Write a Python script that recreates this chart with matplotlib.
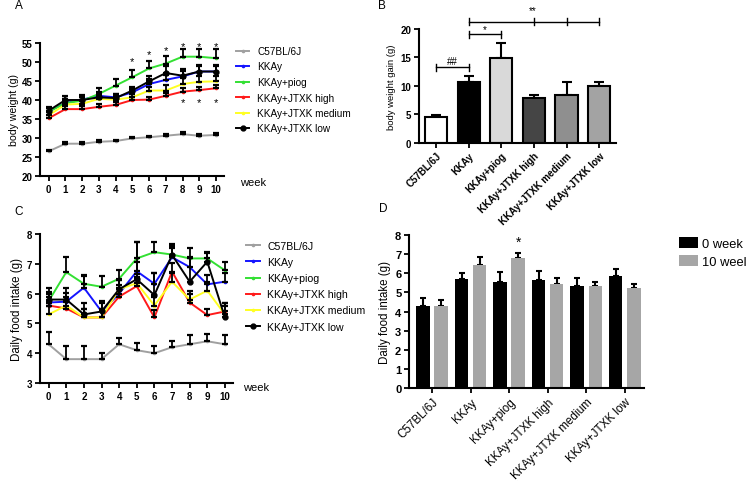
import matplotlib.pyplot as plt
import numpy as np

plt.rcParams['font.family'] = ['Liberation Sans', 'DejaVu Sans']

# ── Data ─────────────────────────────────────────────────────────
weeks = list(range(11))
groups = ["C57BL/6J", "KKAy", "KKAy+piog", "KKAy+JTXK high",
          "KKAy+JTXK medium", "KKAy+JTXK low"]
line_colors = ["#a0a0a0", "#1414ff", "#33e033", "#ff1a1a", "#ffff22", "#000000"]

# A: body weight (g), mean and upper SEM
bw_c57 = [26.5, 28.5, 28.5, 29.0, 29.2, 29.9, 30.2, 30.6, 31.0, 30.6, 30.8]
bw_kkay = [37.0, 39.2, 40.1, 41.1, 40.7, 42.0, 44.2, 45.3, 46.2, 47.5, 47.5]
bw_piog = [36.9, 39.2, 39.8, 41.6, 43.8, 46.0, 48.3, 49.6, 51.4, 51.4, 51.0]
bw_high = [35.2, 37.6, 37.6, 38.2, 38.7, 40.0, 40.1, 41.1, 42.2, 42.6, 43.1]
bw_med = [36.0, 38.8, 39.0, 40.3, 40.1, 40.7, 42.5, 42.5, 44.2, 44.8, 44.9]
bw_low = [37.2, 40.0, 40.0, 40.7, 40.5, 42.5, 44.9, 47.1, 46.4, 47.5, 47.5]
bw_err_c57 = [0.4, 0.4, 0.4, 0.4, 0.4, 0.4, 0.4, 0.4, 0.5, 0.4, 0.4]
bw_err_kkay = [1.0, 1.0, 1.0, 1.0, 1.0, 1.0, 1.2, 1.4, 1.4, 1.4, 1.5]
bw_err_piog = [1.0, 1.0, 1.0, 1.5, 1.6, 2.0, 2.0, 2.0, 2.0, 2.0, 2.3]
bw_err_high = [0.8, 0.8, 0.8, 0.8, 0.8, 0.8, 0.8, 0.8, 0.9, 0.9, 0.9]
bw_err_med = [1.0, 1.0, 1.0, 1.0, 1.0, 1.0, 1.0, 1.5, 1.5, 1.5, 1.5]
bw_err_low = [1.0, 1.0, 1.2, 1.2, 1.0, 1.0, 1.5, 1.8, 1.8, 1.8, 1.8]

# C: daily food intake (g)
fi_c57 = [4.3, 3.8, 3.8, 3.8, 4.3, 4.1, 4.0, 4.2, 4.3, 4.4, 4.3]
fi_kkay = [5.7, 5.73, 6.2, 5.4, 6.0, 6.75, 6.33, 7.22, 6.89, 6.31, 6.4]
fi_piog = [5.75, 6.72, 6.33, 6.23, 6.5, 7.18, 7.39, 7.31, 7.18, 7.18, 6.78]
fi_high = [5.6, 5.5, 5.2, 5.2, 5.9, 6.25, 5.2, 6.74, 5.7, 5.28, 5.4]
fi_med = [5.3, 5.6, 5.2, 5.2, 6.15, 6.35, 5.6, 6.4, 5.8, 6.1, 5.3]
fi_low = [5.8, 5.8, 5.3, 5.4, 6.15, 6.48, 5.95, 7.3, 6.4, 7.07, 5.2]
fi_err_c57 = [0.4, 0.45, 0.45, 0.2, 0.2, 0.25, 0.25, 0.2, 0.3, 0.25, 0.3]
fi_err_kkay = [0.3, 0.3, 0.4, 0.3, 0.3, 0.3, 0.37, 0.3, 0.35, 0.3, 0.3]
fi_err_piog = [0.3, 0.5, 0.3, 0.35, 0.3, 0.55, 0.35, 0.3, 0.35, 0.2, 0.27]
fi_err_high = [0.3, 0.3, 0.3, 0.3, 0.3, 0.3, 0.25, 0.3, 0.3, 0.22, 0.3]
fi_err_med = [0.3, 0.3, 0.3, 0.3, 0.3, 0.3, 0.3, 0.3, 0.3, 0.3, 0.3]
fi_err_low = [0.4, 0.4, 0.4, 0.35, 0.3, 1.25, 0.75, 0.35, 0.8, 0.3, 0.5]

# B: body weight gain (g)
gain = [4.5, 10.7, 14.9, 7.85, 8.4, 10.0]
gain_err = [0.4, 1.1, 2.7, 0.55, 2.3, 0.75]
gain_colors = ["white", "black", "#d9d9d9", "#454545", "#8f8f8f", "#a3a3a3"]

# D: daily food intake 0 vs 10 week
food_w0 = [4.3, 5.7, 5.55, 5.65, 5.35, 5.85]
food_w0_err = [0.4, 0.3, 0.5, 0.45, 0.4, 0.4]
food_w10 = [4.3, 6.45, 6.8, 5.45, 5.35, 5.25]
food_w10_err = [0.3, 0.4, 0.25, 0.3, 0.2, 0.2]

W, H = 749, 485


def axes_px(left, right, top, bottom):
    return fig.add_axes([left / W, 1 - bottom / H, (right - left) / W, (bottom - top) / H])


def prism_style(ax, tick_size=7, bold=True):
    for s in ["top", "right"]:
        ax.spines[s].set_visible(False)
    for s in ["left", "bottom"]:
        ax.spines[s].set_linewidth(1.5)
    ax.tick_params(direction="out", length=3.5, width=1.3, labelsize=tick_size, pad=2)
    if bold:
        for lab in ax.get_xticklabels() + ax.get_yticklabels():
            lab.set_fontweight("bold")


def line_panel(ax, means, errs):
    for name, m, e, c in zip(groups, means, errs, line_colors):
        ms = 3.5 if c == "#000000" else 1.6
        ax.plot(weeks, m, color=c, lw=1.4, marker="o", ms=ms, label=name,
                zorder=4 if c == "#000000" else 3)
        ax.errorbar(weeks, m, yerr=[np.zeros(len(e)), e], fmt="none", ecolor="black",
                    elinewidth=1.3, capsize=2.2, capthick=1.6, zorder=5)


def bracket(ax, xs, y, label, ty, h=0.6):
    ax.plot([xs[0], xs[-1]], [y, y], color="black", lw=1, clip_on=False)
    for x in xs:
        ax.plot([x, x], [y - h, y + h], color="black", lw=1, clip_on=False)
    ax.text((xs[0] + xs[-1]) / 2, ty, label, ha="center", va="center",
            fontsize=7, clip_on=False)


fig = plt.figure(figsize=(W / 100, H / 100), dpi=100)

# ── A: body weight ──────────────────────────────────────────────
axA = axes_px(40, 224, 44, 177)
line_panel(axA, [bw_c57, bw_kkay, bw_piog, bw_high, bw_med, bw_low],
           [bw_err_c57, bw_err_kkay, bw_err_piog, bw_err_high, bw_err_med, bw_err_low])
axA.set_xlim(-0.52, 10.48)
axA.set_ylim(20, 55)
axA.set_xticks(weeks)
axA.set_yticks(range(20, 56, 5))
axA.set_ylabel("body weight (g)", fontsize=7.6, labelpad=2)
prism_style(axA)
for wk, y in zip([5, 6, 7, 8, 9, 10], [50.3, 52.2, 53.2, 54.3, 54.3, 54.3]):
    axA.text(wk, y, "*", ha="center", va="center", fontsize=8)
for wk in [8, 9, 10]:
    axA.text(wk, 39.4, "*", ha="center", va="center", fontsize=8)
axA.legend(loc="upper left", bbox_to_anchor=(236 / W, 1 - 47 / H), bbox_transform=fig.transFigure,
           frameon=False, fontsize=7.2, handlelength=1.3, handletextpad=0.8,
           labelspacing=0.55, borderpad=0, borderaxespad=0)
fig.text(240 / W, 1 - 183 / H, "week", fontsize=8, va="center", ha="left")

# ── C: daily food intake per week ───────────────────────────────
axC = axes_px(40, 233, 235, 384)
line_panel(axC, [fi_c57, fi_kkay, fi_piog, fi_high, fi_med, fi_low],
           [fi_err_c57, fi_err_kkay, fi_err_piog, fi_err_high, fi_err_med, fi_err_low])
axC.set_xlim(-0.49, 10.46)
axC.set_ylim(3, 8)
axC.set_xticks(weeks)
axC.set_yticks(range(3, 9))
axC.set_ylabel("Daily food intake (g)", fontsize=8.3, labelpad=3)
prism_style(axC)
axC.legend(loc="upper left", bbox_to_anchor=(246 / W, 1 - 242 / H), bbox_transform=fig.transFigure,
           frameon=False, fontsize=7.6, handlelength=1.3, handletextpad=0.7,
           labelspacing=0.58, borderpad=0, borderaxespad=0)
fig.text(243 / W, 1 - 388 / H, "week", fontsize=8, va="center", ha="left")

# ── B: body weight gain ─────────────────────────────────────────
axB = axes_px(419, 616, 30, 143.7)
xb = np.arange(len(groups))
axB.bar(xb, gain, width=0.68, color=gain_colors, edgecolor="black", linewidth=1.5, zorder=2)
axB.errorbar(xb, gain, yerr=[np.zeros(len(gain_err)), gain_err], fmt="none", ecolor="black",
             elinewidth=1.5, capsize=3.5, capthick=1.5, zorder=1)
axB.set_xlim(-0.53, 5.52)
axB.set_ylim(0, 20)
axB.set_yticks([0, 5, 10, 15, 20])
axB.set_xticks(xb)
axB.set_xticklabels(groups, rotation=45, ha="right", rotation_mode="anchor")
axB.set_ylabel("body weight gain (g)", fontsize=6.8, labelpad=3)
prism_style(axB, tick_size=7)

bracket(axB, [0, 1], 13.3, "##", 14.4)
bracket(axB, [1, 2], 19.1, "*", 19.9)
bracket(axB, [1, 3, 4, 5], 21.3, "", 23.3)
axB.text(2.95, 23.3, "**", ha="center", va="center", fontsize=7, clip_on=False)

# ── D: food intake 0 vs 10 week ─────────────────────────────────
axD = axes_px(409, 644, 236, 389.3)
xd = np.arange(len(groups))
off = 0.235
axD.bar(xd - off, food_w0, width=0.35, color="black", label="0 week", zorder=2)
axD.bar(xd + off, food_w10, width=0.35, color="#a6a6a6", label="10 weel", zorder=2)
axD.errorbar(xd - off, food_w0, yerr=[np.zeros(6), food_w0_err], fmt="none", ecolor="black",
             elinewidth=1.5, capsize=2.5, capthick=1.5, zorder=1)
axD.errorbar(xd + off, food_w10, yerr=[np.zeros(6), food_w10_err], fmt="none", ecolor="black",
             elinewidth=1.5, capsize=2.5, capthick=1.5, zorder=1)
axD.set_xlim(-0.6, 5.5)
axD.set_ylim(0, 8)
axD.set_yticks(range(0, 9))
axD.set_xticks(xd)
axD.set_xticklabels(groups, rotation=45, ha="right", rotation_mode="anchor")
axD.set_ylabel("Daily food intake (g)", fontsize=8.3, labelpad=3)
prism_style(axD, tick_size=8, bold=False)
axD.tick_params(axis="x", labelsize=8.4)
for lab in axD.get_yticklabels():
    lab.set_fontweight("bold")
axD.text(2 + off, 7.65, "*", ha="center", va="center", fontsize=10)
axD.legend(loc="upper left", bbox_to_anchor=(679 / W, 1 - 238 / H), bbox_transform=fig.transFigure,
           frameon=False, fontsize=9.3, handlelength=1.45, handleheight=0.95, handletextpad=0.3,
           labelspacing=0.4, borderpad=0, borderaxespad=0)

# ── Panel letters ───────────────────────────────────────────────
for txt, x, y in [("A", 19, 6), ("B", 382, 6), ("C", 19, 212), ("D", 383, 209)]:
    fig.text(x / W, 1 - y / H, txt, fontsize=8.5, ha="center", va="center")

fig.savefig("out.png", dpi=100, facecolor="white")
plt.close()
